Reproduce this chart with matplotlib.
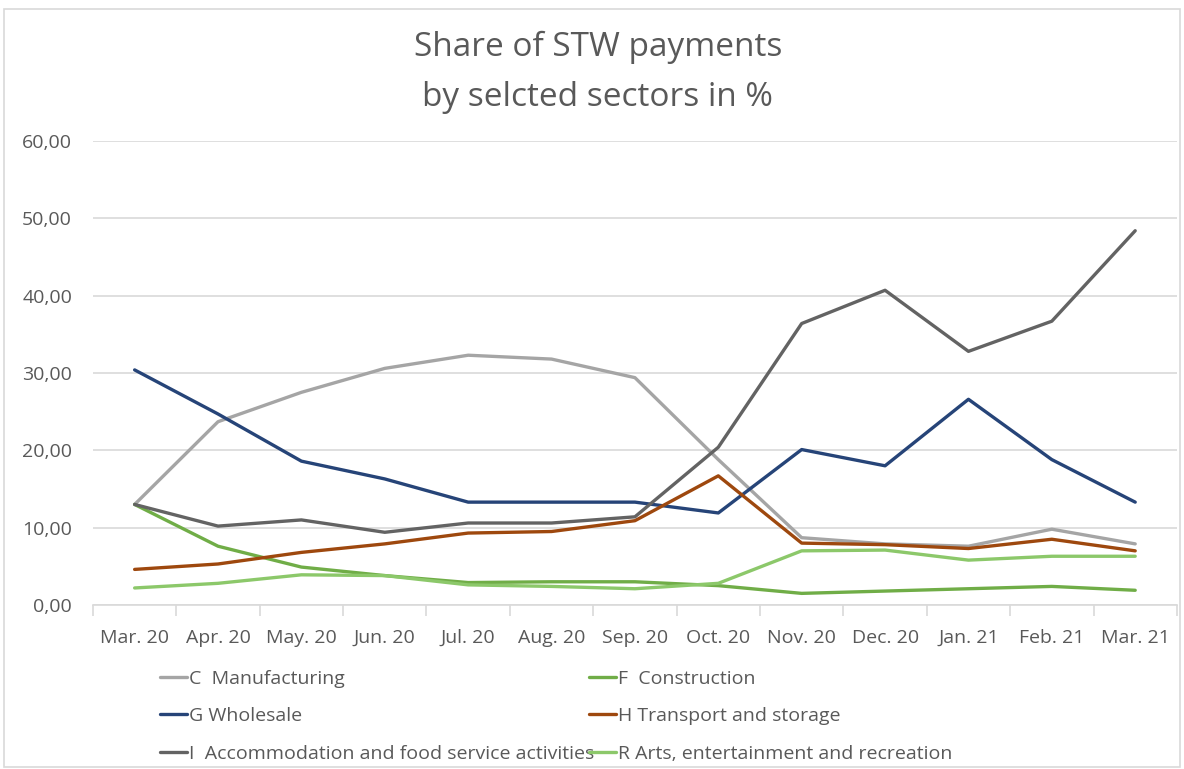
import matplotlib.pyplot as plt
from matplotlib.ticker import FuncFormatter, MultipleLocator

months = ["Mar. 20", "Apr. 20", "May. 20", "Jun. 20", "Jul. 20", "Aug. 20", "Sep. 20",
          "Oct. 20", "Nov. 20", "Dec. 20", "Jan. 21", "Feb. 21", "Mar. 21"]

c_manuf = [13.0, 23.7, 27.5, 30.6, 32.3, 31.8, 29.4, 18.8, 8.7, 7.9, 7.6, 9.8, 7.9]
f_constr = [13.0, 7.6, 4.9, 3.8, 2.9, 3.0, 3.0, 2.5, 1.5, 1.8, 2.1, 2.4, 1.9]
g_whole = [30.4, 24.7, 18.6, 16.3, 13.3, 13.3, 13.3, 11.9, 20.1, 18.0, 26.6, 18.8, 13.3]
h_trans = [4.6, 5.3, 6.8, 7.9, 9.3, 9.5, 10.9, 16.7, 8.0, 7.8, 7.3, 8.5, 7.0]
i_accom = [13.0, 10.2, 11.0, 9.4, 10.6, 10.6, 11.4, 20.4, 36.4, 40.7, 32.8, 36.7, 48.4]
r_arts = [2.2, 2.8, 3.9, 3.8, 2.6, 2.4, 2.1, 2.8, 7.0, 7.1, 5.8, 6.3, 6.3]

names = ["C  Manufacturing", "F  Construction", "G Wholesale",
         "H Transport and storage", "I  Accommodation and food service activities",
         "R Arts, entertainment and recreation"]
series = [c_manuf, f_constr, g_whole, h_trans, i_accom, r_arts]
colors = ["#A5A5A5", "#70AD47", "#264478", "#9E480E", "#636363", "#8CC86A"]

plt.rcParams['font.family'] = ['Open Sans', 'DejaVu Sans']
txt = "#595959"

fig = plt.figure(figsize=(11.84, 7.69), dpi=100)
# outer chart border
fig.patches.append(plt.Rectangle((0.003, 0.003), 0.994, 0.985, transform=fig.transFigure,
                                 fill=False, edgecolor="#D9D9D9", lw=1.2))
ax = fig.add_axes([0.0785, 0.2133, 0.9155, 0.6033])

x = range(len(months))
lines = []
for s, col, nm in zip(series, colors, names):
    l, = ax.plot(x, s, color=col, lw=2.4, label=nm, solid_capstyle='round', solid_joinstyle='round')
    lines.append(l)

ax.set_ylim(0, 60)
ax.set_xlim(-0.5, 12.5)
ax.yaxis.set_major_locator(MultipleLocator(10))
ax.yaxis.set_major_formatter(FuncFormatter(lambda v, p: f"{v:.2f}".replace(".", ",")))
ax.grid(axis='y', color="#D9D9D9", lw=1.2)
ax.set_axisbelow(True)
for sp in ["top", "right", "left"]:
    ax.spines[sp].set_visible(False)
ax.spines["bottom"].set_color("#D9D9D9")
ax.spines["bottom"].set_linewidth(1.2)

ax.set_xticks(list(x))
ax.set_xticklabels(months)
ax.set_xticks([i + 0.5 for i in range(-1, 13)], minor=True)
ax.tick_params(axis='x', which='major', length=0, pad=17, labelsize=14, labelcolor=txt)
ax.tick_params(axis='x', which='minor', length=8, color="#D9D9D9", width=1.2)
ax.tick_params(axis='y', length=0, pad=15, labelsize=14, labelcolor=txt)

fig.text(0.505, 0.906, "Share of STW payments\nby selcted sectors in %", ha='center', va='center',
         fontsize=24, color=txt, linespacing=1.7)

order = [0, 2, 4, 1, 3, 5]
fig.legend([lines[i] for i in order], [names[i] for i in order], ncol=2,
           loc='upper left', bbox_to_anchor=(0.12, 0.152), frameon=False,
           fontsize=14, labelcolor=txt, handlelength=1.4, handletextpad=0.1,
           columnspacing=-0.25, labelspacing=1.0)

fig.savefig("out.png", dpi=100)
